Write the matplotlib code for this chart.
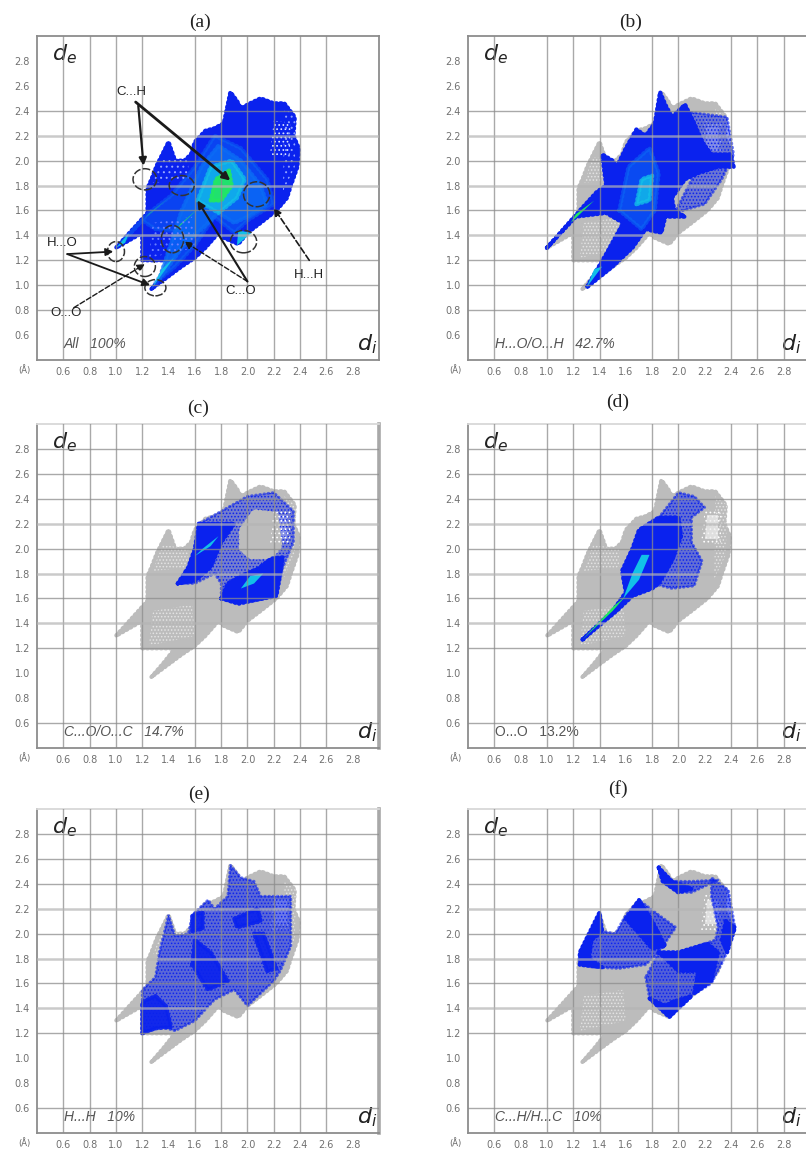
import matplotlib
matplotlib.use("Agg")
import matplotlib.pyplot as plt
from matplotlib.colors import to_rgba
from matplotlib.patches import Polygon, Ellipse

plt.rcParams['hatch.linewidth'] = 0.7

TICKS = [0.6, 0.8, 1.0, 1.2, 1.4, 1.6, 1.8, 2.0, 2.2, 2.4, 2.6, 2.8]
GRID_X_LEFT = [0.6, 0.8, 1.0, 1.2, 1.6, 1.8, 2.0, 2.2, 2.4, 2.6]
GRID_X_RIGHT = [0.6, 1.0, 1.2, 1.4, 1.8, 2.0, 2.4, 2.6, 2.8]
GRID_Y_TOP = [0.8, 1.0, 1.2, 1.6, 2.0, 2.4]
GRID_Y_LOW = [0.6, 1.2, 1.6, 2.0, 2.4, 2.6, 2.8]
SOFT_Y = [1.4, 1.8, 2.2]

TITLES = ["(a)", "(b)", "(c)", "(d)", "(e)", "(f)"]
CAPTIONS = ["All   100%", "H...O/O...H   42.7%", "C...O/O...C   14.7%",
            "O...O   13.2%", "H...H   10%", "C...H/H...C   10%"]

OUTLINE = [(1.27, .97), (1.36, 1.08), (1.45, 1.2), (1.2, 1.2), (1.2, 1.42), (1.1, 1.36), (1.0, 1.3),
           (1.12, 1.44), (1.24, 1.58), (1.24, 1.78), (1.27, 1.85), (1.31, 1.96), (1.4, 2.15), (1.45, 2.0),
           (1.52, 2.0), (1.57, 2.05), (1.6, 2.15), (1.68, 2.24), (1.75, 2.26), (1.82, 2.3), (1.87, 2.55),
           (1.92, 2.48), (1.95, 2.42), (2.02, 2.46), (2.1, 2.5), (2.2, 2.46), (2.28, 2.46), (2.36, 2.35),
           (2.35, 2.2), (2.39, 2.1), (2.38, 1.95), (2.33, 1.8), (2.3, 1.7), (2.22, 1.6), (2.1, 1.5),
           (2.0, 1.42), (1.93, 1.33), (1.82, 1.38), (1.78, 1.42), (1.68, 1.3), (1.6, 1.22), (1.5, 1.15)]
HOLE = [(2.17, 2.03), (2.32, 2.03), (2.33, 2.3), (2.2, 2.32)]
HOLE_CORE = [(2.2, 2.08), (2.3, 2.08), (2.3, 2.27), (2.22, 2.27)]
RIGHT_EDGE = [(2.27, 1.75), (2.36, 1.95), (2.37, 2.35), (2.28, 2.42)]
BLOCK = [(1.25, 1.22), (1.6, 1.3), (1.58, 1.55), (1.28, 1.5)]
LOBE = [(1.28, 1.82), (1.55, 1.85), (1.55, 2.0), (1.35, 2.03)]

ALL_MID = [(1.3, 1.02), (1.45, 1.25), (1.55, 1.42), (1.3, 1.45), (1.2, 1.52), (1.05, 1.35), (1.25, 1.58),
           (1.42, 1.72), (1.6, 1.95), (1.75, 2.2), (1.95, 2.1), (2.15, 1.85), (2.2, 1.65), (2.0, 1.52),
           (1.9, 1.42), (1.75, 1.55), (1.6, 1.32), (1.45, 1.15)]
ALL_CORE = [(1.5, 1.6), (1.65, 1.95), (1.78, 2.12), (1.95, 2.0), (2.1, 1.8), (2.15, 1.65), (2.0, 1.55),
            (1.9, 1.5), (1.78, 1.58), (1.62, 1.42), (1.5, 1.3), (1.4, 1.15), (1.33, 1.05)]
ALL_CYAN = [(1.62, 1.68), (1.72, 1.95), (1.88, 2.0), (1.98, 1.85), (1.92, 1.7), (1.78, 1.58)]
ALL_GREEN = [(1.72, 1.68), (1.76, 1.85), (1.86, 1.92), (1.88, 1.8), (1.8, 1.68)]
ALL_STREAK_A = [(1.22, 1.54), (1.4, 1.7), (1.26, 1.58)]
ALL_STREAK_B = [(1.45, 1.44), (1.63, 1.62), (1.49, 1.49)]
ALL_TIP_A = [(1.0, 1.3), (1.1, 1.42), (1.07, 1.34)]
ALL_TIP_B = [(1.27, .97), (1.44, 1.22), (1.35, 1.13)]
ALL_SPOT = [(1.92, 1.32), (2.03, 1.42), (1.93, 1.44)]

HO_OUT = [(1.0, 1.3), (1.25, 1.6), (1.38, 1.75), (1.45, 1.8), (1.42, 2.05), (1.5, 2.0), (1.53, 1.95),
          (1.6, 2.1), (1.68, 2.25), (1.75, 2.2), (1.82, 2.3), (1.86, 2.55), (1.9, 2.45), (1.95, 2.35),
          (2.05, 2.45), (2.12, 2.3), (2.18, 2.15), (2.25, 2.05), (2.4, 2.05), (2.42, 1.95), (2.3, 1.95),
          (2.15, 1.9), (2.05, 1.85), (1.95, 1.7), (1.97, 1.6), (2.05, 1.55), (1.9, 1.55), (1.87, 1.42),
          (1.75, 1.45), (1.65, 1.3), (1.5, 1.15), (1.3, .98), (1.45, 1.25), (1.58, 1.5), (1.45, 1.58),
          (1.22, 1.55)]
HO_SPARSE = [(1.97, 1.58), (2.2, 1.65), (2.33, 1.85), (2.42, 2.05), (2.37, 2.35), (2.15, 2.38), (2.0, 2.4), (2.25, 2.0), (2.1, 1.85)]
HO_CORE = [(1.55, 1.6), (1.62, 1.95), (1.78, 2.1), (1.85, 1.9), (1.82, 1.6), (1.72, 1.45)]
HO_CYAN = [(1.68, 1.65), (1.72, 1.85), (1.8, 1.88), (1.78, 1.68)]
HO_SPIKE = [(1.18, 1.5), (1.36, 1.68), (1.22, 1.57)]
HO_TIP = [(1.3, .98), (1.42, 1.15), (1.36, 1.13)]

CO_RING = [(1.47, 1.72), (1.55, 1.85), (1.62, 2.0), (1.63, 2.2), (1.8, 2.3), (2.0, 2.42), (2.2, 2.45),
           (2.35, 2.3), (2.35, 2.05), (2.27, 1.85), (2.22, 1.62), (1.93, 1.55), (1.8, 1.6), (1.8, 1.72),
           (1.75, 1.8), (1.6, 1.72)]
CO_GREY = [(1.95, 2.0), (2.02, 1.93), (2.18, 1.93), (2.25, 2.02), (2.22, 2.28), (2.05, 2.3), (1.95, 2.15)]
CO_DENSE_A = [(1.47, 1.72), (1.55, 1.85), (1.6, 2.0), (1.63, 2.2), (1.8, 2.2), (1.9, 2.2), (1.8, 2.05), (1.72, 1.85), (1.6, 1.74)]
CO_DENSE_B = [(1.8, 1.6), (1.93, 1.56), (2.22, 1.62), (2.27, 1.93), (2.18, 1.92), (2.08, 1.84), (1.95, 1.78), (1.85, 1.72)]
CO_CYAN_A = [(1.6, 1.94), (1.72, 2.02), (1.78, 2.1), (1.66, 2.0)]
CO_CYAN_B = [(1.95, 1.68), (2.05, 1.72), (2.12, 1.8), (2.02, 1.78)]

OO_BODY = [(1.27, 1.27), (1.5, 1.5), (1.6, 1.65), (1.57, 1.82), (1.65, 2.0), (1.7, 2.15), (1.85, 2.25),
           (2.0, 2.25), (2.02, 2.1), (1.95, 1.9), (1.85, 1.72), (1.8, 1.68), (1.65, 1.62), (1.53, 1.5)]
OO_SPARSE = [(1.85, 2.25), (2.0, 2.45), (2.12, 2.42), (2.2, 2.33), (2.1, 2.25), (2.1, 2.05), (2.18, 1.9), (2.12, 1.7), (1.95, 1.68), (1.8, 1.72)]
OO_CYAN = [(1.58, 1.6), (1.7, 1.75), (1.78, 1.95), (1.72, 1.95), (1.65, 1.8)]
OO_GREEN = [(1.27, 1.27), (1.5, 1.5), (1.6, 1.62), (1.5, 1.53)]

HH_OUT = [(1.2, 1.2), (1.2, 1.55), (1.3, 1.65), (1.33, 1.85), (1.4, 2.15), (1.45, 1.98), (1.55, 2.0),
          (1.58, 2.15), (1.7, 2.27), (1.75, 2.2), (1.85, 2.3), (1.87, 2.55), (1.95, 2.45), (2.05, 2.42),
          (2.1, 2.3), (2.2, 2.3), (2.33, 2.3), (2.33, 1.9), (2.25, 1.7), (2.2, 1.62), (2.0, 1.42),
          (1.9, 1.55), (1.75, 1.47), (1.6, 1.3), (1.45, 1.22), (1.35, 1.25)]
HH_CORNER = [(1.2, 1.2), (1.2, 1.45), (1.3, 1.5), (1.38, 1.42), (1.42, 1.25), (1.3, 1.24)]
HH_CENTRE = [(1.58, 1.75), (1.6, 1.95), (1.72, 1.85), (1.85, 1.62), (1.7, 1.55)]
HH_PATCH = [(1.58, 2.02), (1.58, 2.15), (1.66, 2.17), (1.66, 2.04)]
HH_TOP = [(1.9, 2.12), (2.08, 2.2), (2.1, 2.1), (1.92, 2.05)]
HH_STRIPE = [(2.05, 2.0), (2.12, 2.0), (2.22, 1.72), (2.15, 1.7)]

CH_LEFT = [(1.25, 1.75), (1.25, 1.85), (1.4, 2.17), (1.42, 2.02), (1.52, 2.0), (1.6, 2.15), (1.7, 2.27),
           (1.85, 2.15), (1.98, 2.05), (1.85, 1.85), (1.75, 1.75), (1.55, 1.72), (1.35, 1.73)]
CH_RIGHT = [(1.75, 1.65), (1.78, 1.48), (1.93, 1.33), (2.1, 1.5), (2.25, 1.6), (2.35, 1.8), (2.43, 2.05),
            (2.38, 2.35), (2.25, 2.45), (2.25, 2.3), (2.3, 2.05), (2.28, 1.95), (2.15, 1.9), (2.0, 1.85), (1.85, 1.85)]
CH_TOP = [(1.85, 2.53), (1.88, 2.42), (2.0, 2.33), (2.1, 2.33), (2.3, 2.43), (2.1, 2.42), (1.95, 2.42)]
CH_DENSE_A = [(1.25, 1.75), (1.25, 1.85), (1.4, 2.17), (1.42, 2.02), (1.34, 1.95), (1.32, 1.8), (1.42, 1.73)]
CH_DENSE_B = [(1.6, 2.12), (1.7, 2.27), (1.8, 2.1), (1.9, 1.9), (1.8, 1.88), (1.7, 2.0)]
CH_DENSE_C = [(1.85, 1.85), (2.0, 1.85), (2.22, 1.92), (2.3, 1.85), (2.25, 1.62), (2.12, 1.52), (2.15, 1.7), (2.0, 1.7)]
CH_DENSE_D = [(1.78, 1.48), (1.93, 1.33), (2.1, 1.5), (1.95, 1.45), (1.9, 1.42)]
CH_DENSE_E = [(2.36, 2.1), (2.43, 2.05), (2.37, 1.85), (2.33, 1.95)]
CH_DENSE_F = [(1.85, 2.53), (1.88, 2.42), (2.0, 2.33), (2.1, 2.36), (1.95, 2.42)]

W, H = 806, 1151
GREY = "#bcbcbc"
BLUE = "#0a22ee"
MID = "#0a6cf5"
CORE = "#0a90f0"
CYAN = "#12c0e8"
GREEN = "#22e860"
RECTS = [(37, 36), (468, 36), (37, 424), (468, 424), (37, 809), (468, 809)]
PW, PH = 342, 324

fig = plt.figure(figsize=(W / 100, H / 100), dpi=100, facecolor="white")


def solid(ax, pts, color, z=3, rough=True, alpha=1.0):
    ax.add_patch(Polygon(pts, closed=True, facecolor=to_rgba(color, alpha), edgecolor="none", zorder=z))
    if rough:
        ax.add_patch(Polygon(pts, closed=True, fill=False, edgecolor=to_rgba(color, alpha), linewidth=3,
                             linestyle=(0, (0.3, 0.8)), capstyle="round", joinstyle="round", zorder=z))


def sparse(ax, pts, color, z=3, alpha=0.5, hatch="....."):
    ax.add_patch(Polygon(pts, closed=True, facecolor=to_rgba(color, alpha), edgecolor=color, linewidth=0,
                         hatch=hatch, zorder=z))
    ax.add_patch(Polygon(pts, closed=True, fill=False, edgecolor=to_rgba(color, 0.6), linewidth=2,
                         linestyle=(0, (0.3, 1.2)), capstyle="round", zorder=z))


def dots(ax, pts, color, z=3, hatch="....."):
    ax.add_patch(Polygon(pts, closed=True, facecolor="none", edgecolor=color, linewidth=0, hatch=hatch, zorder=z))


def base(ax):
    solid(ax, OUTLINE, GREY, 2)
    for p in (RIGHT_EDGE, BLOCK, LOBE):
        dots(ax, p, "#e4e4e4", 2.2, ".....")
    dots(ax, HOLE, "white", 2.2, "....")
    solid(ax, HOLE_CORE, "#eeeeee", 2.3, rough=False, alpha=0.7)


axes = []
for i, (x0, y0) in enumerate(RECTS):
    ax = fig.add_axes([x0 / W, 1 - (y0 + PH) / H, PW / W, PH / H])
    axes.append(ax)
    ax.set_xlim(0.4, 3.0)
    ax.set_ylim(0.4, 3.0)
    ax.set_xticks(TICKS)
    ax.set_yticks(TICKS)
    ax.set_xticklabels([f"{t:.1f}" for t in TICKS])
    ax.set_yticklabels([f"{t:.1f}" for t in TICKS])
    ax.tick_params(length=0, labelsize=7, labelcolor="#707070", pad=5)
    gx = GRID_X_LEFT if i % 2 == 0 else GRID_X_RIGHT
    gy = GRID_Y_TOP if i < 2 else GRID_Y_LOW
    for v in gx:
        ax.axvline(v, color="#8c8c8c", lw=1.0, alpha=0.75, zorder=5)
    for v in gy:
        ax.axhline(v, color="#8c8c8c", lw=1.0, alpha=0.75, zorder=5)
    for v in SOFT_Y:
        ax.axhline(v, color="#b4b4b4", lw=1.8, alpha=0.7, zorder=5)
    for s in ax.spines.values():
        s.set_color("#8c8c8c")
        s.set_linewidth(1.3)
    if i in (2, 4):
        ax.spines["right"].set_color("#a8a8a8")
        ax.spines["right"].set_linewidth(2.6)
    if i >= 2:
        ax.spines["top"].set_color("#d8d8d8")
    ax.text(0.045, 0.945, r"$d_e$", transform=ax.transAxes, fontsize=16, color="#222222", ha="left", va="center")
    ax.text(0.965 if i % 2 == 0 else 0.945, 0.048, r"$d_i$", transform=ax.transAxes, fontsize=16, color="#222222",
            ha="center", va="center")
    ax.text(0.078, 0.05, CAPTIONS[i], transform=ax.transAxes, fontsize=10, style="italic" if i != 3 else "normal",
            color="#555555", ha="left", va="center", family="Liberation Sans")
    ax.text(-0.02, -0.03, "(Å)", transform=ax.transAxes, fontsize=6, color="#666666", ha="right", va="center")

# (a)
ax = axes[0]
solid(ax, OUTLINE, BLUE)
solid(ax, ALL_MID, MID, 3.1, alpha=0.45)
solid(ax, ALL_CORE, MID, 3.15, alpha=0.8)
solid(ax, ALL_CYAN, CYAN, 3.2, alpha=0.75)
solid(ax, ALL_GREEN, GREEN, 3.3, alpha=0.9)
for p in (ALL_STREAK_A, ALL_STREAK_B):
    solid(ax, p, GREEN, 3.3, rough=False)
for p in (ALL_TIP_A, ALL_TIP_B, ALL_SPOT):
    solid(ax, p, CYAN, 3.3, rough=False)
dots(ax, HOLE, "#dde4ff", 3.4, "....")
dots(ax, RIGHT_EDGE, "#8ea0ff", 3.4, "...")
dots(ax, LOBE, "#98a8ff", 3.4, "...")
dots(ax, BLOCK, "#6a80ff", 3.4, "...")

ELLIPSES = [(1.22, 1.85, .18, .17), (1.5, 1.8, .19, .16), (2.07, 1.73, .2, .2), (1.43, 1.37, .17, .22),
            (1.97, 1.35, .2, .18), (1.0, 1.27, .13, .16), (1.22, 1.15, .16, .16), (1.3, .98, .16, .13)]
for c0, c1, w, h in ELLIPSES:
    ax.add_patch(Ellipse((c0, c1), w, h, fill=False, edgecolor="#333333", lw=1.1, ls=(0, (5, 1.5)), zorder=6))
LABELS = [("C...H", 1.12, 2.55), ("H...O", 0.59, 1.34), ("O...O", 0.62, 0.78), ("C...O", 1.95, 0.95), ("H...H", 2.47, 1.08)]
for s, tx, ty in LABELS:
    ax.text(tx, ty, s, fontsize=9.5, color="#222222", ha="center", va="center", family="Liberation Sans", zorder=7)
ARROWS = [((1.15, 2.47), (1.87, 1.84), "-", 2.0), ((1.17, 2.44), (1.21, 1.96), "-", 1.6),
          ((0.63, 1.25), (0.98, 1.27), "-", 1.3), ((0.63, 1.25), (1.26, 1.0), "-", 1.3),
          ((0.68, 0.82), (1.22, 1.17), "--", 1.0), ((2.0, 1.03), (1.62, 1.68), "-", 1.5),
          ((2.0, 1.03), (1.52, 1.35), "--", 1.0), ((2.47, 1.2), (2.2, 1.62), "--", 1.2)]
for a, b, ls, lw in ARROWS:
    ax.annotate("", xy=b, xytext=a, zorder=7,
                arrowprops=dict(arrowstyle="-|>", color="#1a1a1a", lw=lw, ls=ls, shrinkA=0, shrinkB=0, mutation_scale=11))

# (b)
ax = axes[1]
base(ax)
sparse(ax, HO_SPARSE, BLUE, alpha=0.45)
solid(ax, HO_OUT, BLUE, 3.1)
solid(ax, HO_CORE, MID, 3.2, alpha=0.55)
solid(ax, HO_CYAN, CYAN, 3.3, alpha=0.8)
solid(ax, HO_SPIKE, GREEN, 3.3, rough=False)
solid(ax, HO_TIP, CYAN, 3.3, rough=False)

# (c)
ax = axes[2]
base(ax)
sparse(ax, CO_RING, BLUE, alpha=0.4)
solid(ax, CO_GREY, GREY, 3.05)
dots(ax, HOLE, "white", 3.06, "....")
solid(ax, CO_DENSE_A, BLUE, 3.1)
solid(ax, CO_DENSE_B, BLUE, 3.1)
solid(ax, CO_CYAN_A, CYAN, 3.3, rough=False)
solid(ax, CO_CYAN_B, CYAN, 3.3, rough=False)

# (d)
ax = axes[3]
base(ax)
sparse(ax, OO_SPARSE, BLUE, alpha=0.5)
solid(ax, OO_BODY, BLUE, 3.1)
solid(ax, OO_CYAN, CYAN, 3.3, rough=False)
solid(ax, OO_GREEN, GREEN, 3.3, rough=False)

# (e)
ax = axes[4]
base(ax)
sparse(ax, HH_OUT, BLUE, alpha=0.55)
for p in (HH_CORNER, HH_CENTRE, HH_PATCH, HH_TOP, HH_STRIPE):
    solid(ax, p, BLUE, 3.1, alpha=0.9)

# (f)
ax = axes[5]
base(ax)
for p in (CH_LEFT, CH_RIGHT, CH_TOP):
    sparse(ax, p, BLUE, alpha=0.6)
for p in (CH_DENSE_A, CH_DENSE_B, CH_DENSE_C, CH_DENSE_D, CH_DENSE_E, CH_DENSE_F):
    solid(ax, p, BLUE, 3.1)

TITLE_POS = [(200, 22), (631, 22), (198, 408), (618, 402), (199, 794), (618, 789)]
for s, (tx, ty) in zip(TITLES, TITLE_POS):
    fig.text(tx / W, 1 - ty / H, s, fontsize=14, family="Liberation Serif", color="#222222", ha="center", va="center")

fig.savefig("out.png", dpi=100)
